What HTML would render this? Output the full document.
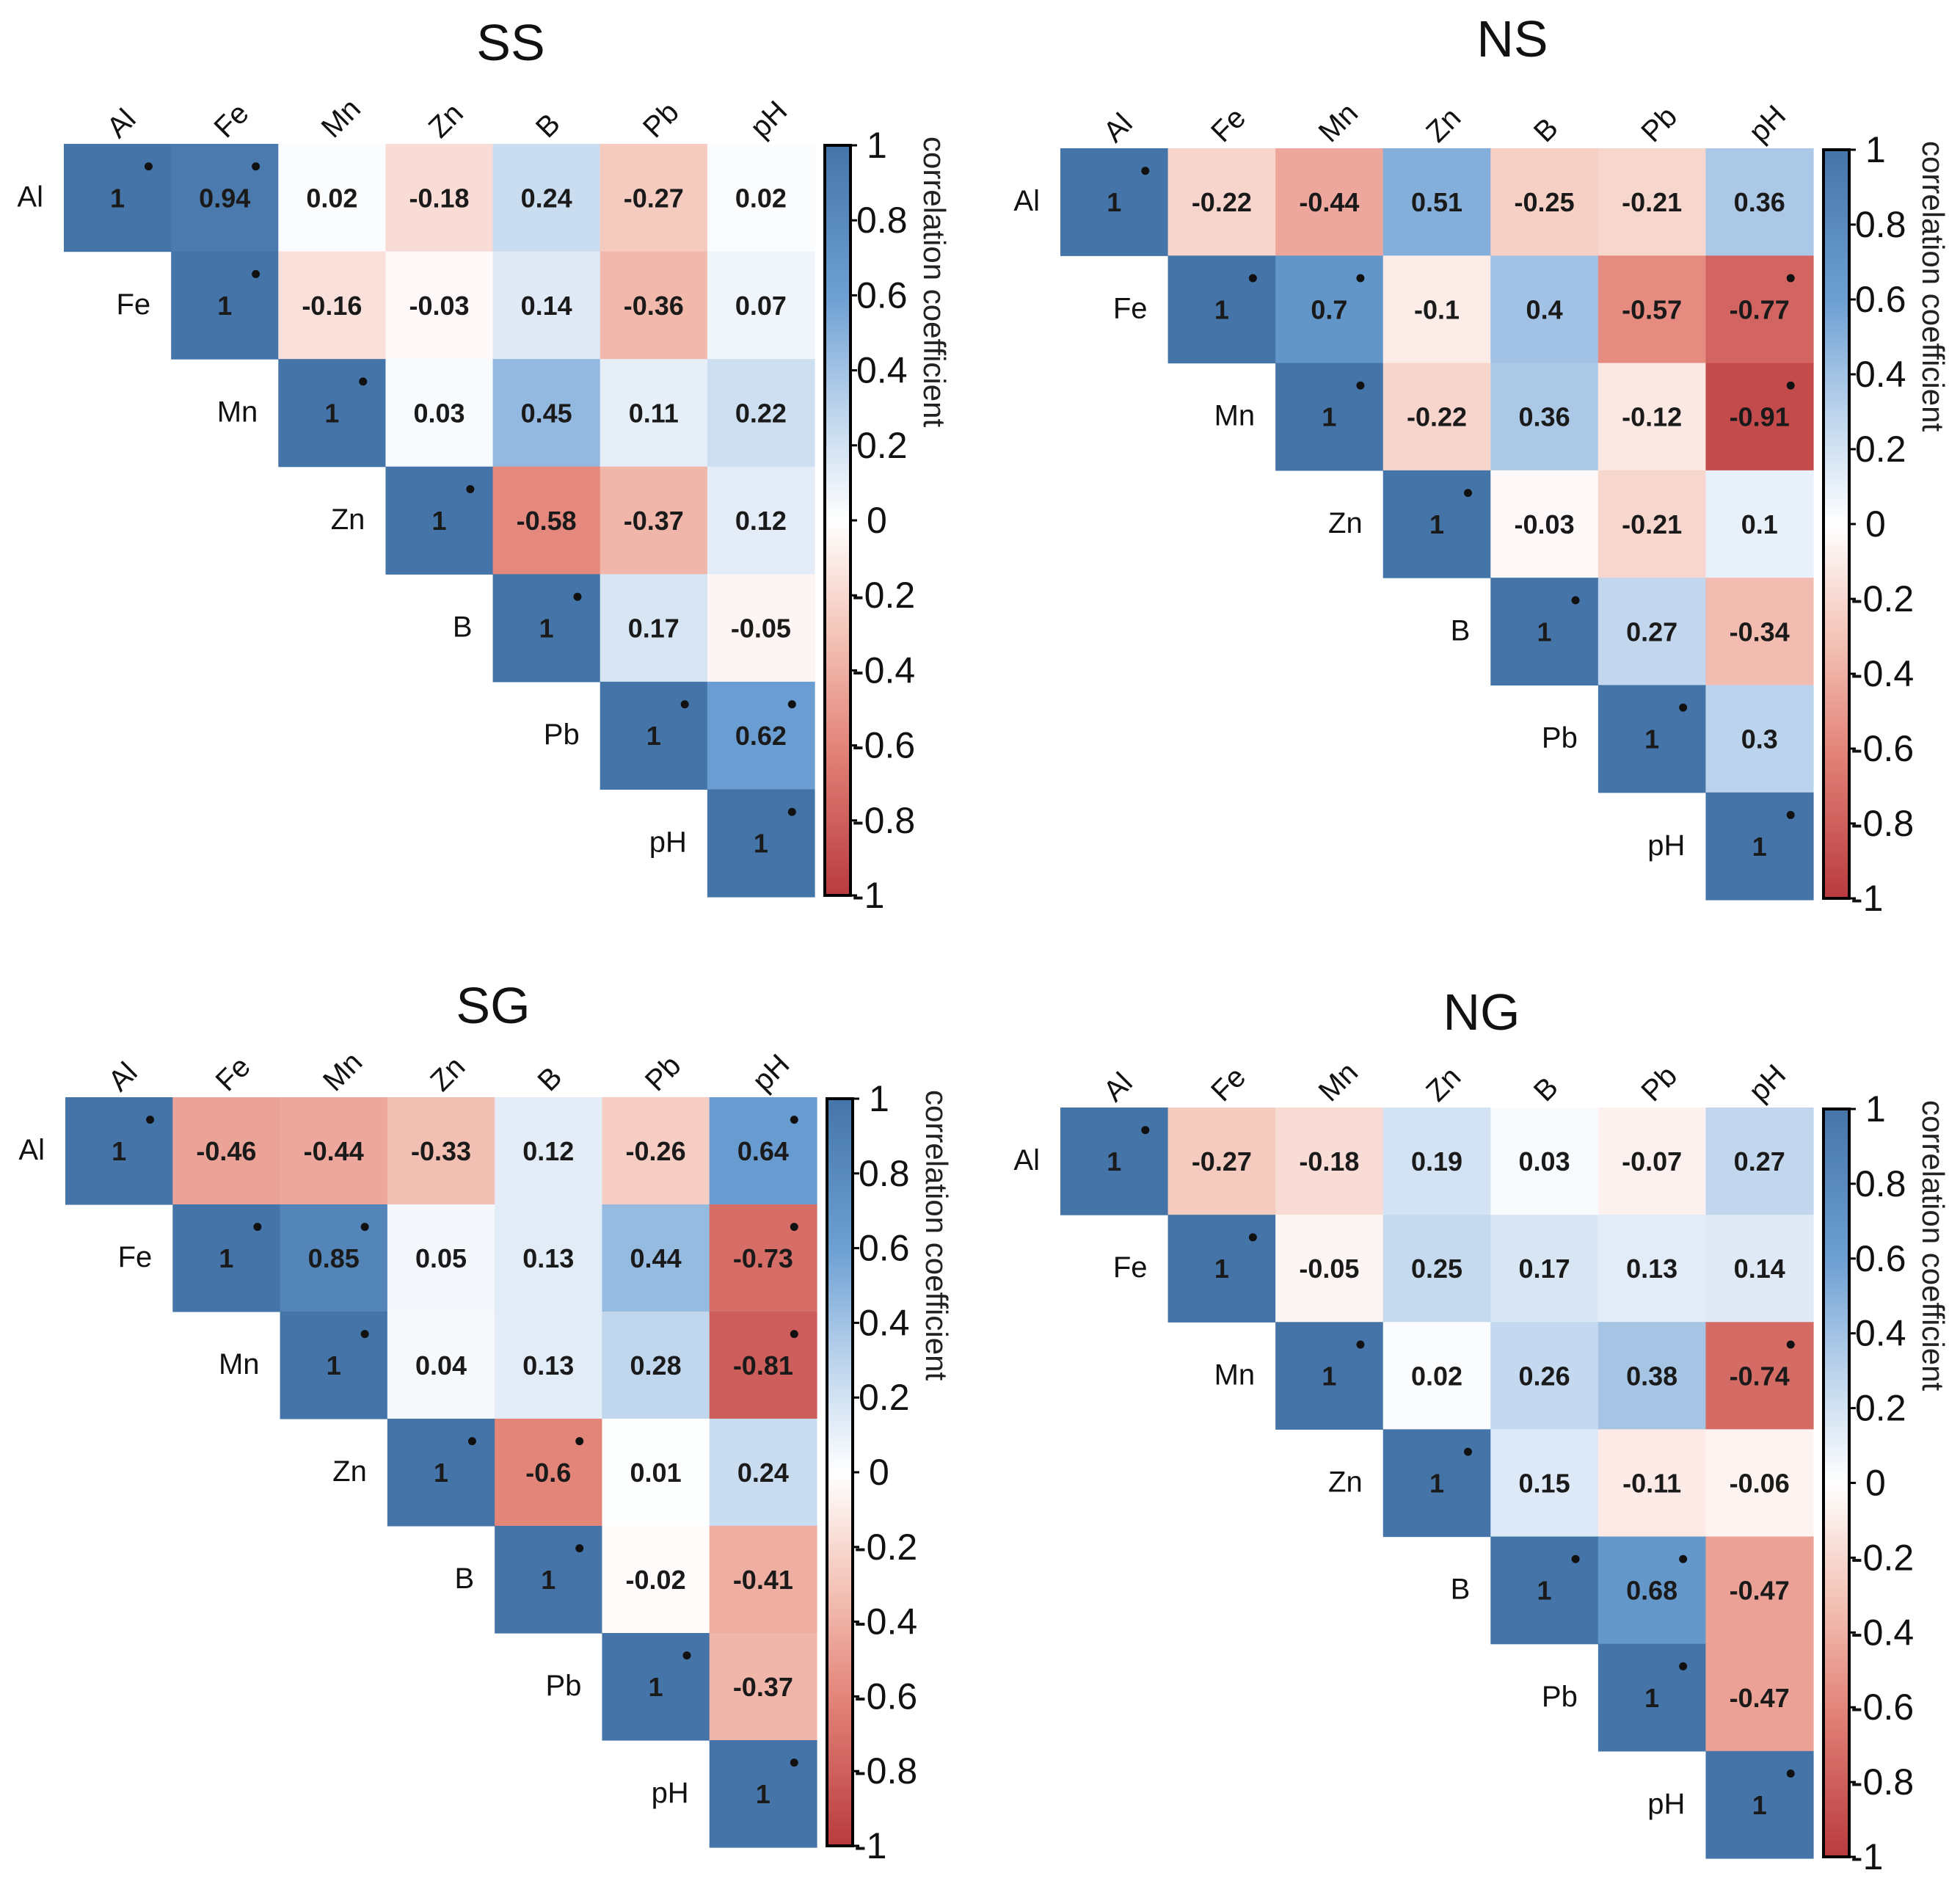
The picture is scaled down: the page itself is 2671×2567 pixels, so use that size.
<!DOCTYPE html>
<html><head><meta charset="utf-8"><style>
html,body{margin:0;padding:0;background:#fff;}
svg{display:block;font-family:"Liberation Sans",Arial,sans-serif;}
</style></head><body>
<svg id="chart" width="2671" height="2567" viewBox="0 0 2671 2567"></svg>
<script>
const variables = ["Al","Fe","Mn","Zn","B","Pb","pH"];
const panelTitles = ["SS","NS","SG","NG"];
// upper-triangle rows (row i lists columns i..6)
const ssValues = [[1,0.94,0.02,-0.18,0.24,-0.27,0.02],[1,-0.16,-0.03,0.14,-0.36,0.07],[1,0.03,0.45,0.11,0.22],[1,-0.58,-0.37,0.12],[1,0.17,-0.05],[1,0.62],[1]];
const nsValues = [[1,-0.22,-0.44,0.51,-0.25,-0.21,0.36],[1,0.7,-0.1,0.4,-0.57,-0.77],[1,-0.22,0.36,-0.12,-0.91],[1,-0.03,-0.21,0.1],[1,0.27,-0.34],[1,0.3],[1]];
const sgValues = [[1,-0.46,-0.44,-0.33,0.12,-0.26,0.64],[1,0.85,0.05,0.13,0.44,-0.73],[1,0.04,0.13,0.28,-0.81],[1,-0.6,0.01,0.24],[1,-0.02,-0.41],[1,-0.37],[1]];
const ngValues = [[1,-0.27,-0.18,0.19,0.03,-0.07,0.27],[1,-0.05,0.25,0.17,0.13,0.14],[1,0.02,0.26,0.38,-0.74],[1,0.15,-0.11,-0.06],[1,0.68,-0.47],[1,-0.47],[1]];
// significance flags (1 = star)
const ssSig = [[1,1,0,0,0,0,0],[1,0,0,0,0,0],[1,0,0,0,0],[1,0,0,0],[1,0,0],[1,1],[1]];
const nsSig = [[1,0,0,0,0,0,0],[1,1,0,0,0,1],[1,0,0,0,1],[1,0,0,0],[1,0,0],[1,0],[1]];
const sgSig = [[1,0,0,0,0,0,1],[1,1,0,0,0,1],[1,0,0,0,1],[1,1,0,0],[1,0,0],[1,0],[1]];
const ngSig = [[1,0,0,0,0,0,0],[1,0,0,0,0,0],[1,0,0,0,1],[1,0,0,0],[1,1,0],[1,0],[1]];
const colorbarTicks = [1,0.8,0.6,0.4,0.2,0,-0.2,-0.4,-0.6,-0.8,-1];

const panels = [
  {name:"ss", vals:ssValues, sig:ssSig, x0:87, x1:1110, y0:196, y1:1222, tx:696, ty:82},
  {name:"ns", vals:nsValues, sig:nsSig, x0:1445, x1:2471, y0:202, y1:1226, tx:2061, ty:77},
  {name:"sg", vals:sgValues, sig:sgSig, x0:89, x1:1113, y0:1495, y1:2517, tx:672, ty:1394},
  {name:"ng", vals:ngValues, sig:ngSig, x0:1445, x1:2471, y0:1509, y1:2532, tx:2019, ty:1403}
];

const stops = [[-1,[185,58,62]],[-0.6,[228,133,122]],[-0.3,[244,197,185]],[0,[255,255,255]],[0.3,[187,211,236]],[0.6,[108,159,211]],[1,[69,117,168]]];
function colorOf(v){
  for(let i=0;i<stops.length-1;i++){
    const a=stops[i],b=stops[i+1];
    if(v>=a[0]&&v<=b[0]){const t=(v-a[0])/(b[0]-a[0]);
      const c=a[1].map((x,k)=>Math.round(x+(b[1][k]-x)*t));return `rgb(${c[0]},${c[1]},${c[2]})`;}
  }
  return v>0?"rgb(69,117,168)":"rgb(185,58,62)";
}
const NS="http://www.w3.org/2000/svg";
const svg=document.getElementById("chart");
function mk(tag,attrs,parent){const e=document.createElementNS(NS,tag);for(const k in attrs)e.setAttribute(k,attrs[k]);(parent||svg).appendChild(e);return e;}

const defs=mk("defs",{});
const grad=mk("linearGradient",{id:"cbgrad",x1:"0",y1:"0",x2:"0",y2:"1"},defs);
for(let i=0;i<=20;i++){const v=1-i/10;mk("stop",{offset:(i/20),"stop-color":colorOf(v)},grad);}

panels.forEach((p,pi)=>{
  const g=mk("g",{});
  
  
  const cw=(p.x1-p.x0)/7, ch=(p.y1-p.y0)/7;
  const xs=j=>p.x0+j*cw, ys=i=>p.y0+i*ch;
  const title=mk("text",{x:p.tx,y:p.ty,"text-anchor":"middle","font-size":70,fill:"#111"},g);
  title.textContent=panelTitles[pi];
  
  
  for(let i=0;i<7;i++){
    p.vals[i].forEach((v,k)=>{
      const j=i+k;
      const r=mk("rect",{x:xs(j),y:ys(i),width:cw+0.6,height:ch+0.6,fill:colorOf(v)},g);
      
      
      const t=mk("text",{x:xs(j)+cw/2,y:ys(i)+ch/2+13,"text-anchor":"middle","font-size":36,"font-weight":"bold",fill:"#1a1a1a"},g);
      t.textContent=String(v);
      
      
      if(p.sig[i][k]){
        const s=mk("circle",{cx:xs(j)+cw*0.79,cy:ys(i)+ch*0.21,r:5.5,fill:"#111"},g);
        
        
      }
    });
    const rl=mk("text",{x:xs(i)-28,y:ys(i)+ch/2+12,"text-anchor":"end","font-size":40,fill:"#111"},g);
    rl.textContent=variables[i];
    
    
    const cx=xs(i)+cw/2+2, cy=p.y0-6;
    const cl=mk("text",{x:cx,y:cy,"font-size":40,fill:"#111",transform:`rotate(-45 ${cx} ${cy})`},g);
    cl.textContent=variables[i];
    
    
  }
  // colorbar
  const bx=p.x1+14, bw=35, by0=p.y0+2, by1=p.y1-2;
  const cb=mk("rect",{x:bx,y:by0,width:bw,height:by1-by0,fill:"url(#cbgrad)",stroke:"#000","stroke-width":4},g);
  
  
  const cys=v=>by0+(1-v)/2*(by1-by0);
  colorbarTicks.forEach(v=>{
    const y=cys(v);
    mk("line",{x1:bx+bw,x2:bx+bw+9,y1:y,y2:y,stroke:"#000","stroke-width":3},g);
    const tl=mk("text",{x:bx+bw+(v<0?2:(v===1||v===0?22:8)),y:y+17,"font-size":50,fill:"#111"},g);
    tl.textContent=String(v);
    
    
  });
  const ax=bx+bw+100, ay=p.y0-10;
  const at=mk("text",{x:ax,y:ay,"font-size":42,fill:"#222",transform:`rotate(90 ${ax} ${ay})`},g);
  at.textContent="correlation coefficient";
  
  
});
</script>
</body></html>
